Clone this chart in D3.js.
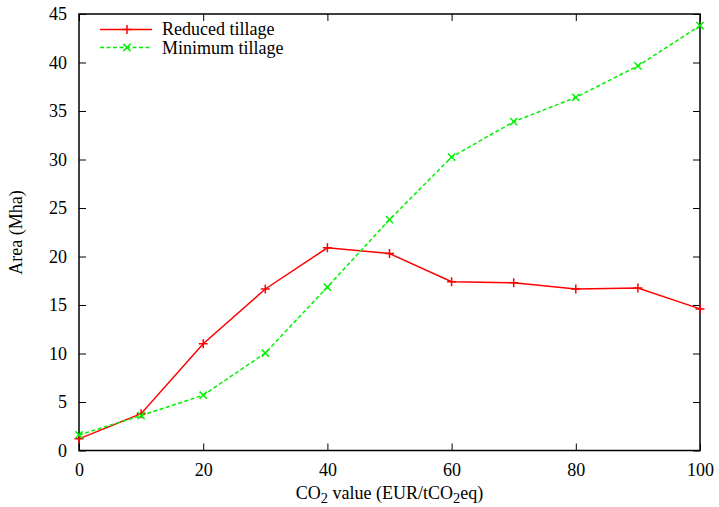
<!DOCTYPE html>
<html><head><meta charset="utf-8">
<script src="https://cdn.jsdelivr.net/npm/d3@7"></script>
<style>body{margin:0;background:#fff}svg{display:block}svg text{font-family:"Liberation Serif","DejaVu Serif",serif !important;fill:#000}</style>
</head><body><svg id="c" width="719" height="507"></svg>
<script>
const co2 = [0,10,20,30,40,50,60,70,80,90,100];
const reduced = [1.2,3.8,11.0,16.65,20.9,20.3,17.4,17.3,16.65,16.75,14.6];
const minimum = [1.6,3.6,5.7,10.05,16.85,23.8,30.25,33.9,36.4,39.65,43.8];
const xTicks = [0,20,40,60,80,100];
const yTicks = [0,5,10,15,20,25,30,35,40,45];
const seriesNames = ["Reduced tillage","Minimum tillage"];

const FONT = '"Liberation Serif","DejaVu Serif",serif';
const svg = d3.select("#c");
const L=79,R=700,T=14,B=450.5;
const x = d3.scaleLinear().domain([0,100]).range([L,R]);
const y = d3.scaleLinear().domain([0,45]).range([B,T]);
const fs = 18;

const tk = 7;
const g = svg.append("g");
function styleAx(a){a.attr("font-family",FONT);a.select(".domain").remove();a.selectAll("text").attr("font-size",fs).style("font-family",FONT);a.selectAll("line").attr("stroke","#000");}
g.append("g").attr("transform",`translate(0,${B})`).call(d3.axisBottom(x).tickValues(xTicks).tickSize(-tk).tickPadding(13).tickFormat(d3.format("d"))).call(styleAx);
g.append("g").attr("transform",`translate(0,${T})`).call(d3.axisTop(x).tickValues(xTicks).tickSize(-tk).tickFormat("")).call(styleAx);
g.append("g").attr("transform",`translate(${L},0)`).call(d3.axisLeft(y).tickValues(yTicks).tickSize(-tk).tickPadding(12).tickFormat(d3.format("d"))).call(styleAx);
g.append("g").attr("transform",`translate(${R},0)`).call(d3.axisRight(y).tickValues(yTicks).tickSize(-tk).tickFormat("")).call(styleAx);

svg.append("rect").attr("x",L).attr("y",T).attr("width",R-L).attr("height",B-T).attr("fill","none").attr("stroke","#000").attr("stroke-width",1.5);

const line = d3.line().x((d,i)=>x(co2[i])).y(d=>y(d));
const red="#ff0000", green="#00f000";
svg.append("path").datum(reduced).attr("d",line).attr("fill","none").attr("stroke",red).attr("stroke-width",1.5);
svg.append("path").datum(minimum).attr("d",line).attr("fill","none").attr("stroke",green).attr("stroke-width",1.5).attr("stroke-dasharray","4,2.5");

const ms=4.5;
function plus(sel,cx,cy,c){sel.append("path").attr("d",`M${cx-ms},${cy}H${cx+ms}M${cx},${cy-ms}V${cy+ms}`).attr("stroke",c).attr("stroke-width",1.5).attr("fill","none");}
function cross(sel,cx,cy,c){const s=ms*0.8;sel.append("path").attr("d",`M${cx-s},${cy-s}L${cx+s},${cy+s}M${cx-s},${cy+s}L${cx+s},${cy-s}`).attr("stroke",c).attr("stroke-width",1.5).attr("fill","none");}
const mk=svg.append("g");
reduced.forEach((v,i)=>plus(mk,x(co2[i]),y(v),red));
minimum.forEach((v,i)=>cross(mk,x(co2[i]),y(v),green));

const lg=svg.append("g");
lg.append("line").attr("x1",100).attr("x2",152).attr("y1",29.5).attr("y2",29.5).attr("stroke",red).attr("stroke-width",1.5);
plus(lg,127,29.5,red);
lg.append("line").attr("x1",100).attr("x2",152).attr("y1",47.5).attr("y2",47.5).attr("stroke",green).attr("stroke-width",1.5).attr("stroke-dasharray","4,2.5");
cross(lg,127,47.5,green);
lg.append("text").attr("x",162).attr("y",35).attr("font-size",fs).style("font-family",FONT).text(seriesNames[0]);
lg.append("text").attr("x",162).attr("y",53.5).attr("font-size",fs).style("font-family",FONT).text(seriesNames[1]);

const xl=svg.append("text").attr("x",(L+R)/2).attr("y",499).attr("text-anchor","middle").attr("font-size",fs).style("font-family",FONT);
xl.append("tspan").text("CO");
xl.append("tspan").attr("font-size",fs*0.8).attr("dy",4).text("2");
xl.append("tspan").attr("dy",-4).text(" value (EUR/tCO");
xl.append("tspan").attr("font-size",fs*0.8).attr("dy",4).text("2");
xl.append("tspan").attr("dy",-4).text("eq)");
svg.append("text").attr("transform",`translate(22,232.5) rotate(-90)`).attr("text-anchor","middle").attr("font-size",fs).style("font-family",FONT).text("Area (Mha)");
</script></body></html>
